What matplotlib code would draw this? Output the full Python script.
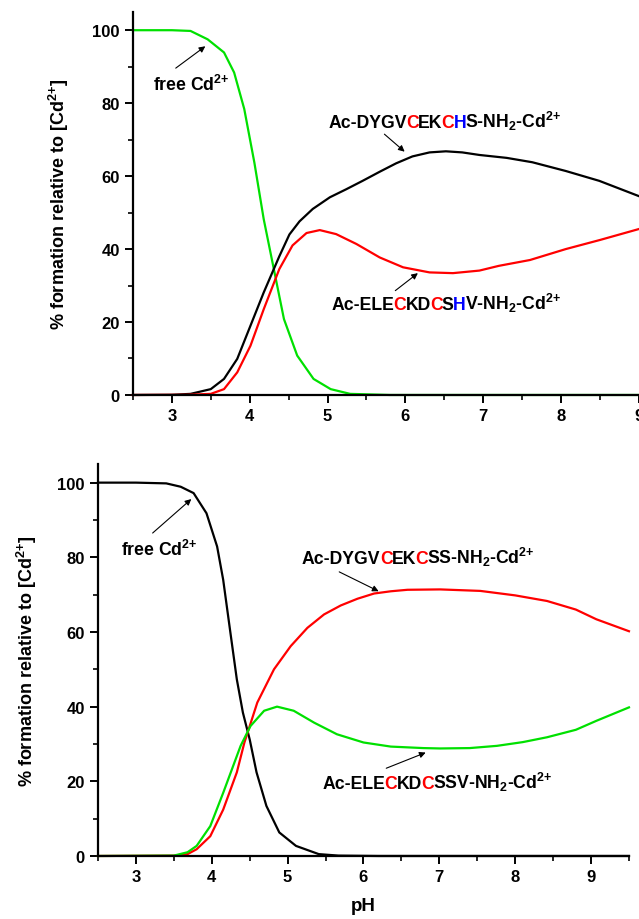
import numpy as np
import matplotlib
matplotlib.use('Agg')
import matplotlib.pyplot as plt
import matplotlib.transforms as mtransforms
from matplotlib.ticker import MultipleLocator

plt.rcParams['font.family'] = 'Liberation Sans'
plt.rcParams['font.weight'] = 'bold'
plt.rcParams['mathtext.fontset'] = 'custom'
plt.rcParams['mathtext.rm'] = 'Liberation Sans:bold'
plt.rcParams['mathtext.bf'] = 'Liberation Sans:bold'
plt.rcParams['mathtext.it'] = 'Liberation Sans:bold'
plt.rcParams['mathtext.default'] = 'bf'

# top panel
ph_top_free = [2.5, 3.0, 3.24, 3.46, 3.67, 3.8, 3.93, 4.06, 4.18, 4.31, 4.44, 4.61, 4.82, 5.04, 5.29, 5.8, 9.0]
top_free = [100, 100, 99.8, 97.5, 93.9, 88.4, 78.4, 63.7, 48.2, 34.5, 20.8, 10.8, 4.4, 1.6, 0.3, 0, 0]

ph_top_his1 = [2.5, 3.0, 3.24, 3.5, 3.67, 3.84, 4.01, 4.18, 4.38, 4.51, 4.64, 4.81, 5.03, 5.24, 5.45, 5.67,
               5.88, 6.09, 6.31, 6.52, 6.73, 6.95, 7.3, 7.63, 8.06, 8.49, 9.0]
top_his1 = [0, 0.05, 0.3, 1.6, 4.4, 9.9, 19, 28.1, 38.0, 44.0, 47.6, 51, 54.2, 56.4, 58.7, 61.2,
            63.5, 65.4, 66.5, 66.8, 66.5, 65.8, 65, 63.8, 61.4, 58.7, 54.5]

ph_top_his2 = [2.5, 3.2, 3.5, 3.67, 3.84, 4.01, 4.18, 4.38, 4.55, 4.73, 4.9, 5.11, 5.37, 5.67, 5.97, 6.31,
               6.61, 6.95, 7.2, 7.6, 8.06, 8.5, 9.0]
top_his2 = [0, 0.05, 0.3, 1.6, 6.2, 13.5, 23.5, 34.5, 41.0, 44.4, 45.2, 44.1, 41.4, 37.7, 35, 33.6,
            33.4, 34.1, 35.4, 37, 40, 42.5, 45.5]

# bottom panel
ph_bot_free = [2.5, 3.0, 3.4, 3.59, 3.76, 3.93, 4.07, 4.15, 4.24, 4.33, 4.41, 4.5, 4.59, 4.72, 4.89, 5.11,
               5.41, 5.67, 6.2, 9.5]
bot_free = [100, 100, 99.8, 98.9, 97.2, 91.8, 82.9, 74, 60.6, 47.3, 38.4, 31.2, 22.4, 13.4, 6.3, 2.7,
            0.5, 0.1, 0, 0]

ph_bot_ser1 = [2.5, 3.5, 3.68, 3.8, 3.98, 4.15, 4.33, 4.43, 4.6, 4.82, 5.04, 5.26, 5.48, 5.7, 5.92, 6.14,
               6.36, 6.58, 7.01, 7.54, 8.0, 8.42, 8.8, 9.07, 9.5]
bot_ser1 = [0, 0.1, 0.5, 1.8, 5.3, 12.4, 22.4, 30.4, 41.1, 50, 56.2, 61.1, 64.7, 67.1, 68.9, 70.3,
            70.9, 71.3, 71.4, 71, 69.8, 68.3, 66, 63.4, 60.2]

ph_bot_ser2 = [2.5, 3.5, 3.68, 3.8, 3.98, 4.15, 4.38, 4.51, 4.69, 4.86, 5.08, 5.35, 5.65, 6.0, 6.36, 6.79,
               7.01, 7.4, 7.76, 8.1, 8.42, 8.8, 9.07, 9.5]
bot_ser2 = [0, 0.1, 1, 2.7, 8, 16.9, 29.5, 34.8, 38.9, 40, 38.9, 35.7, 32.6, 30.4, 29.3, 28.9,
            28.8, 28.9, 29.5, 30.5, 31.8, 33.8, 36.2, 39.8]

GREEN = '#00e000'
RED = '#ff0000'
BLUE = '#0000ff'

CD = 'Cd$^{2{+}}$'
top_lab1 = [('Ac-DYGV', 'k'), ('C', RED), ('EK', 'k'), ('C', RED), ('H', BLUE), ('S-NH$_2$-' + CD, 'k')]
top_lab2 = [('Ac-ELE', 'k'), ('C', RED), ('KD', 'k'), ('C', RED), ('S', 'k'), ('H', BLUE), ('V-NH$_2$-' + CD, 'k')]
bot_lab1 = [('Ac-DYGV', 'k'), ('C', RED), ('EK', 'k'), ('C', RED), ('SS-NH$_2$-' + CD, 'k')]
bot_lab2 = [('Ac-ELE', 'k'), ('C', RED), ('KD', 'k'), ('C', RED), ('SSV-NH$_2$-' + CD, 'k')]

fig = plt.figure(figsize=(6.39, 9.2), dpi=100)
ax1 = fig.add_axes([0.208, 0.5696, 0.792, 0.4163])
ax2 = fig.add_axes([0.1534, 0.0685, 0.8309, 0.4261])


def style(ax, xmax):
    ax.set_xlim(2.5, xmax)
    ax.set_ylim(0, 105)
    for s in ['top', 'right']:
        ax.spines[s].set_visible(False)
    for s in ['left', 'bottom']:
        ax.spines[s].set_linewidth(1.6)
    ax.xaxis.set_major_locator(MultipleLocator(1))
    ax.xaxis.set_minor_locator(MultipleLocator(0.5))
    ax.yaxis.set_major_locator(MultipleLocator(20))
    ax.yaxis.set_minor_locator(MultipleLocator(10))
    ax.tick_params(which='major', direction='out', length=6, width=1.4, labelsize=12)
    ax.tick_params(which='minor', direction='out', length=3.5, width=1.2)
    for lb in ax.get_xticklabels() + ax.get_yticklabels():
        lb.set_fontweight('bold')
    ax.set_ylabel('% formation relative to [' + CD + ']', fontsize=13, fontweight='bold')


style(ax1, 9.0)
style(ax2, 9.5)
ax1.set_xticks([3, 4, 5, 6, 7, 8, 9])
ax2.set_xticks([3, 4, 5, 6, 7, 8, 9])
ax1.yaxis.set_label_coords(-0.123, 0.5)
ax2.yaxis.set_label_coords(-0.112, 0.5)

lw = 1.6
ax1.plot(ph_top_free, top_free, color=GREEN, lw=lw, clip_on=False)
ax1.plot(ph_top_his1, top_his1, color='k', lw=lw, clip_on=False)
ax1.plot(ph_top_his2, top_his2, color=RED, lw=lw, clip_on=False)

ax2.plot(ph_bot_free, bot_free, color='k', lw=lw, clip_on=False)
ax2.plot(ph_bot_ser1, bot_ser1, color=RED, lw=lw, clip_on=False)
ax2.plot(ph_bot_ser2, bot_ser2, color=GREEN, lw=lw, clip_on=False)

ax2.set_xlabel('pH', fontsize=13.5, fontweight='bold', labelpad=9)

arrow = dict(arrowstyle='-|>', color='k', lw=0.8, mutation_scale=9, shrinkA=0, shrinkB=0)

ax1.annotate('', xy=(3.43, 95.6), xytext=(3.05, 89.6), arrowprops=arrow)
ax1.annotate('', xy=(5.99, 66.7), xytext=(5.73, 71.5), arrowprops=arrow)
ax1.annotate('', xy=(6.16, 33.4), xytext=(5.87, 28.6), arrowprops=arrow)
ax2.annotate('', xy=(3.73, 95.6), xytext=(3.22, 86.5), arrowprops=arrow)
ax2.annotate('', xy=(6.2, 70.9), xytext=(5.68, 76.1), arrowprops=arrow)
ax2.annotate('', xy=(6.82, 27.7), xytext=(6.30, 23.5), arrowprops=arrow)

ax1.text(2.76, 83.6, 'free ' + CD, fontsize=12.7, fontweight='bold', va='baseline')
ax2.text(2.80, 80.6, 'free ' + CD, fontsize=12.7, fontweight='bold', va='baseline')

fig.canvas.draw()
renderer = fig.canvas.get_renderer()


# pieces of one label in several colours, put side by side
def multicolor(ax, x, y, pieces, size=12.7):
    tr = ax.transData
    for txt, col in pieces:
        t = ax.text(x, y, txt, color=col, fontsize=size, fontweight='bold', va='baseline', transform=tr)
        ex = t.get_window_extent(renderer)
        # small pull-back: separately drawn pieces come out a bit wider than one string
        tr = mtransforms.offset_copy(t.get_transform(), x=ex.width - 0.8, units='dots', fig=fig)


multicolor(ax1, 5.01, 73.4, top_lab1)
multicolor(ax1, 5.05, 23.6, top_lab2)
multicolor(ax2, 5.19, 78.5, bot_lab1)
multicolor(ax2, 5.46, 18.1, bot_lab2)

fig.savefig('out.png', dpi=100)
